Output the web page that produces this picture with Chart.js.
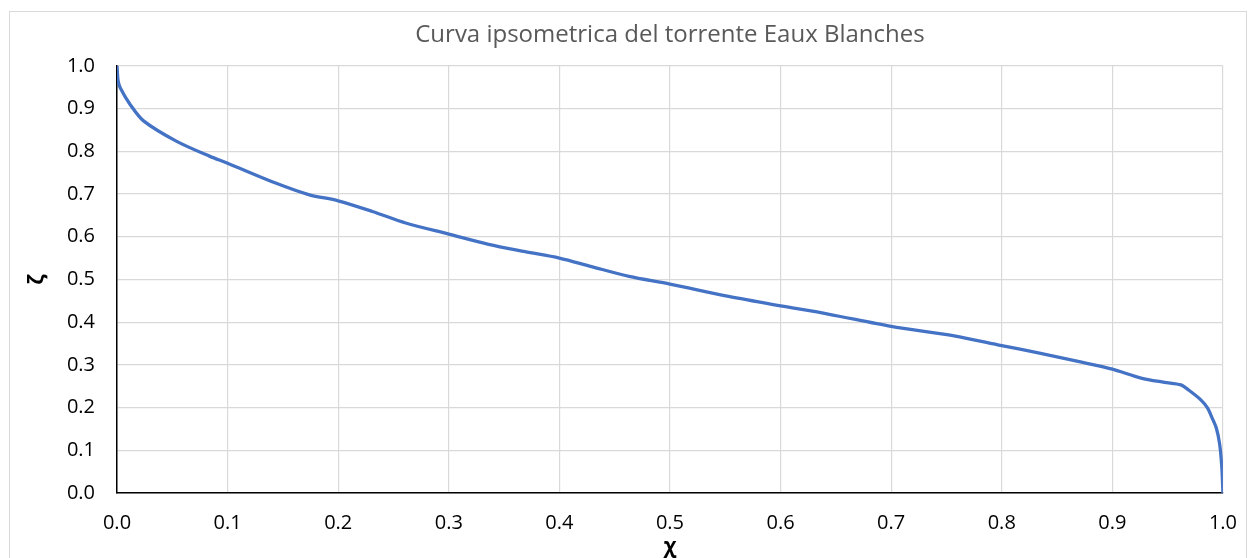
<!DOCTYPE html>
<html>
<head>
<meta charset="utf-8">
<script src="https://cdn.jsdelivr.net/npm/chart.js@4"></script>
<style>
  html, body { margin: 0; padding: 0; background: #fff; }
  #wrap { position: relative; width: 1255px; height: 558px; overflow: hidden; }
  #frame { position: absolute; left: 9px; top: 11px; width: 1236px; height: 600px; border: 1px solid #d9d9d9; }
  canvas { position: absolute; left: 0; top: 0; }
</style>
</head>
<body>
<div id="wrap">
  <div id="frame"></div>
  <canvas id="chart" width="1255" height="558"></canvas>
</div>
<script>
// hypsometric curve
const chiValues = [0, 0.001, 0.003, 0.012, 0.024, 0.054, 0.084, 0.1, 0.144, 0.174, 0.2, 0.231, 0.261, 0.3, 0.336,
  0.369, 0.4, 0.429, 0.463, 0.5, 0.553, 0.6, 0.643, 0.7, 0.757, 0.8, 0.833, 0.869, 0.9, 0.926, 0.947, 0.962,
  0.969, 0.98, 0.986, 0.99, 0.994, 0.997, 0.999, 1.0];
const zetaValues = [1.0, 0.965, 0.948, 0.909, 0.871, 0.823, 0.788, 0.772, 0.725, 0.698, 0.684, 0.659, 0.632, 0.606, 0.582,
  0.565, 0.55, 0.53, 0.507, 0.489, 0.46, 0.438, 0.419, 0.39, 0.368, 0.345, 0.328, 0.308, 0.29, 0.269, 0.259, 0.253,
  0.241, 0.218, 0.199, 0.177, 0.152, 0.115, 0.06, 0];
const axisTicks = [0, 0.1, 0.2, 0.3, 0.4, 0.5, 0.6, 0.7, 0.8, 0.9, 1.0];

const chartTitle = 'Curva ipsometrica del torrente Eaux Blanches';
const xTitle = 'χ';
const yTitle = 'ζ';

const points = chiValues.map((x, i) => ({ x: x, y: zetaValues[i] }));
const fontFamily = "'Open Sans', 'Liberation Sans', sans-serif";

new Chart(document.getElementById('chart'), {
  type: 'scatter',
  data: {
    datasets: [{
      data: points,
      showLine: true,
      borderColor: '#4472C4',
      borderWidth: 3.3,
      pointRadius: 0,
      tension: 0.3,
    }],
  },
  options: {
    responsive: false,
    animation: false,
    layout: { padding: { left: 0, right: 27, top: 0, bottom: 0 } },
    plugins: {
      legend: { display: false },
      tooltip: { enabled: false },
      title: {
        display: true,
        text: chartTitle,
        fullSize: false,
        color: '#595959',
        font: { family: fontFamily, size: 24, weight: 'normal', lineHeight: 1.2 },
        padding: { top: 21, bottom: 16 },
      },
    },
    scales: {
      x: {
        type: 'linear',
        min: 0,
        max: 1,
        afterBuildTicks: (scale) => { scale.ticks = axisTicks.map(v => ({ value: v })); },
        afterFit: (scale) => { scale.height = 65; },
        grid: { color: '#d9d9d9', lineWidth: 1.2, drawTicks: false },
        border: { color: '#000', width: 1.5 },
        ticks: {
          color: '#000',
          padding: 18,
          maxRotation: 0,
          font: { family: fontFamily, size: 20 },
          callback: (v) => Number(v).toFixed(1),
        },
        title: {
          display: true,
          text: xTitle,
          color: '#000',
          font: { family: fontFamily, size: 21, weight: 'bold', lineHeight: 1 },
          padding: { top: 0, bottom: 0 },
        },
      },
      y: {
        type: 'linear',
        min: 0,
        max: 1,
        afterBuildTicks: (scale) => { scale.ticks = axisTicks.map(v => ({ value: v })); },
        afterFit: (scale) => { scale.width = 117; },
        grid: { color: '#d9d9d9', lineWidth: 1.2, drawTicks: false },
        border: { color: '#000', width: 1.5 },
        ticks: {
          color: '#000',
          padding: 22,
          font: { family: fontFamily, size: 20 },
          callback: (v) => Number(v).toFixed(1),
        },
        title: {
          display: true,
          text: yTitle,
          color: '#000',
          font: { family: fontFamily, size: 21, weight: 'bold', lineHeight: 1 },
          padding: { top: 27, bottom: 0 },
        },
      },
    },
  },
});
</script>
</body>
</html>
